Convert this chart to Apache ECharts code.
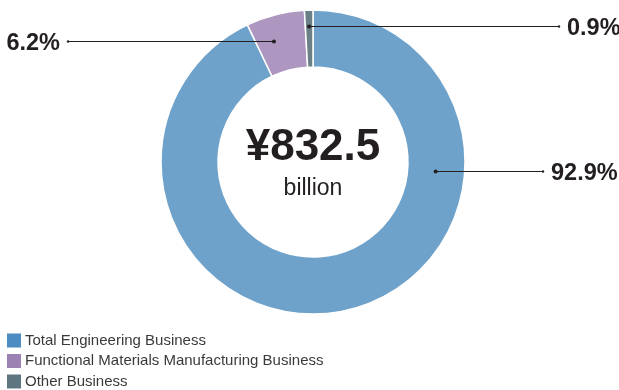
<!DOCTYPE html>
<html>
<head>
<meta charset="utf-8">
<script src="https://cdn.jsdelivr.net/npm/echarts@6/dist/echarts.min.js"></script>
<style>
  html, body { margin: 0; padding: 0; background: #fff; }
  #chart { width: 619px; height: 390px; }
</style>
</head>
<body>
<div id="chart"></div>
<script>
// Segment breakdown of net sales
const categories = ['Total Engineering Business', 'Functional Materials Manufacturing Business', 'Other Business'];
const shares = [92.9, 6.2, 0.9];
const totalAmount = '¥832.5';
const totalUnit = 'billion';

// Styling
const sliceColors = ['#6fa2ca', '#ad97c0', '#6b7f87'];
const legendColors = ['#4d8cc0', '#9c82b3', '#5e7680'];
const inkColor = '#231f20';
const fontFamily = '"Liberation Sans", Arial, Helvetica, sans-serif';

// Donut geometry
const cx = 313, cy = 162, rInner = 95, rOuter = 152;

// Where each leader line starts inside its slice (fraction of the slice's sweep, radius)
// and where it ends horizontally, plus which side the label sits on.
const leaders = [
  { frac: 0.282, r: 123, endX: 543, side: 'right' },
  { frac: 0.343, r: 127, endX: 68, side: 'left' },
  { frac: 0.5, r: 136, endX: 559, side: 'right' }
];

const sum = shares.reduce((a, b) => a + b, 0);
const anchors = (function () {
  let cum = 0;
  return shares.map((v, i) => {
    const deg = (cum + leaders[i].frac * v) / sum * 360;
    cum += v;
    const t = deg * Math.PI / 180;
    const x = cx + leaders[i].r * Math.sin(t);
    const y = Math.round(cy - leaders[i].r * Math.cos(t)) + 0.5;
    return { x, y, endX: leaders[i].endX, side: leaders[i].side };
  });
})();

const chart = echarts.init(document.getElementById('chart'), null, { renderer: 'canvas' });

// Leader lines with a dot at each end, drawn above the ring
const graphics = [];
anchors.forEach(a => {
  graphics.push({
    type: 'polyline', shape: { points: [[a.x, a.y], [a.endX, a.y]] },
    style: { stroke: inkColor, lineWidth: 1, fill: null }, z: 100
  });
  graphics.push({ type: 'circle', shape: { cx: a.x, cy: a.y, r: 2 }, style: { fill: inkColor }, z: 101 });
  graphics.push({ type: 'circle', shape: { cx: a.endX, cy: a.y, r: 1.2 }, style: { fill: inkColor }, z: 101 });
});
graphics.push({
  type: 'text', x: cx, y: 148,
  style: { text: totalAmount, fill: inkColor, font: 'bold 44px ' + fontFamily, textAlign: 'center', textVerticalAlign: 'middle' },
  z: 100
});
graphics.push({
  type: 'text', x: cx, y: 189,
  style: { text: totalUnit, fill: inkColor, font: '23px ' + fontFamily, textAlign: 'center', textVerticalAlign: 'middle' },
  z: 100
});

chart.setOption({
  animation: false,
  backgroundColor: '#fff',
  legend: {
    orient: 'vertical',
    left: 7,
    top: 333,
    height: 120,
    padding: 0,
    itemWidth: 14,
    itemHeight: 14,
    itemGap: 5.5,
    icon: 'rect',
    selectedMode: false,
    itemStyle: { borderWidth: 0 },
    textStyle: { fontSize: 15, color: '#3a3a3a', fontFamily: fontFamily, padding: [0, 0, 0, -1] },
    data: categories.map((name, i) => ({ name, itemStyle: { color: legendColors[i], borderWidth: 0 } }))
  },
  graphic: graphics,
  series: [{
    type: 'pie',
    center: [cx, cy],
    radius: [rInner, rOuter],
    startAngle: 90,
    clockwise: true,
    silent: true,
    itemStyle: { borderColor: '#fff', borderWidth: 1.5 },
    label: {
      show: true,
      position: 'outside',
      formatter: p => p.value + '%',
      color: inkColor,
      fontSize: 23.5,
      fontWeight: 'bold',
      fontFamily: fontFamily
    },
    labelLine: { show: false },
    labelLayout: function (params) {
      const a = anchors[params.dataIndex];
      const right = a.side === 'right';
      return {
        x: right ? a.endX + 8 : a.endX - 8,
        y: a.y + 2.5,
        align: right ? 'left' : 'right',
        verticalAlign: 'middle'
      };
    },
    data: categories.map((name, i) => ({ name, value: shares[i], itemStyle: { color: sliceColors[i] } }))
  }]
});
</script>
</body>
</html>
